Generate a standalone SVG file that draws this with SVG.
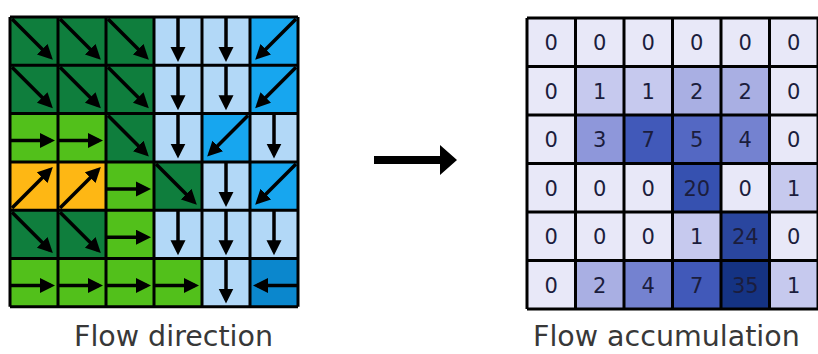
<svg xmlns="http://www.w3.org/2000/svg" xmlns:xlink="http://www.w3.org/1999/xlink" width="818" height="354" viewBox="0 0 818 354">
<style>
.dg{fill:#0f7e3d}.lg{fill:#52c01b}.lb{fill:#b2d8f7}.bb{fill:#17a6ef}.or{fill:#feb714}.db{fill:#0b87cd}
.v0{fill:#e8e8f8}.v1{fill:#c6c9ee}.v2{fill:#a9afe3}.v3{fill:#8e97da}.v4{fill:#7482d0}.v5{fill:#5468c3}.v7{fill:#4159b9}.v20{fill:#3651b0}.v24{fill:#2a469f}.v35{fill:#153383}
.arr{fill:none;stroke:#000;stroke-width:3.5;marker-end:url(#head)}
.grid{fill:none;stroke:#000;stroke-width:3}
.num{font-family:"DejaVu Sans",Verdana,sans-serif;font-size:21px;fill:#1b1d3d;text-anchor:middle}
.cap{font-family:"DejaVu Sans",Verdana,sans-serif;font-size:28.5px;fill:#383838}
</style>
<defs>
<marker id="head" markerUnits="userSpaceOnUse" markerWidth="16" markerHeight="16" refX="11" refY="7.5" orient="auto">
<path d="M0,0 L15,7.5 L0,15 z" fill="#000"/>
</marker>
<path id="se" class="arr" d="M2,2 L40,40"/>
<path id="sw" class="arr" d="M46,2 L8,40"/>
<path id="ne" class="arr" d="M2,46 L40,8"/>
<path id="s" class="arr" d="M24,0 L24,41"/>
<path id="e" class="arr" d="M0,27 L41,27"/>
<path id="w" class="arr" d="M48,27 L7,27"/>
</defs>
<rect width="818" height="354" fill="#fff"/>

<g id="flow-direction">
<rect class="dg" x="10" y="17" width="48" height="48.3"/><rect class="dg" x="58" y="17" width="48" height="48.3"/><rect class="dg" x="106" y="17" width="48" height="48.3"/><rect class="lb" x="154" y="17" width="48" height="48.3"/><rect class="lb" x="202" y="17" width="48" height="48.3"/><rect class="bb" x="250" y="17" width="48" height="48.3"/>
<rect class="dg" x="10" y="65.3" width="48" height="48.3"/><rect class="dg" x="58" y="65.3" width="48" height="48.3"/><rect class="dg" x="106" y="65.3" width="48" height="48.3"/><rect class="lb" x="154" y="65.3" width="48" height="48.3"/><rect class="lb" x="202" y="65.3" width="48" height="48.3"/><rect class="bb" x="250" y="65.3" width="48" height="48.3"/>
<rect class="lg" x="10" y="113.6" width="48" height="48.3"/><rect class="lg" x="58" y="113.6" width="48" height="48.3"/><rect class="dg" x="106" y="113.6" width="48" height="48.3"/><rect class="lb" x="154" y="113.6" width="48" height="48.3"/><rect class="bb" x="202" y="113.6" width="48" height="48.3"/><rect class="lb" x="250" y="113.6" width="48" height="48.3"/>
<rect class="or" x="10" y="161.9" width="48" height="48.3"/><rect class="or" x="58" y="161.9" width="48" height="48.3"/><rect class="lg" x="106" y="161.9" width="48" height="48.3"/><rect class="dg" x="154" y="161.9" width="48" height="48.3"/><rect class="lb" x="202" y="161.9" width="48" height="48.3"/><rect class="bb" x="250" y="161.9" width="48" height="48.3"/>
<rect class="dg" x="10" y="210.2" width="48" height="48.3"/><rect class="dg" x="58" y="210.2" width="48" height="48.3"/><rect class="lg" x="106" y="210.2" width="48" height="48.3"/><rect class="lb" x="154" y="210.2" width="48" height="48.3"/><rect class="lb" x="202" y="210.2" width="48" height="48.3"/><rect class="lb" x="250" y="210.2" width="48" height="48.3"/>
<rect class="lg" x="10" y="258.5" width="48" height="48.3"/><rect class="lg" x="58" y="258.5" width="48" height="48.3"/><rect class="lg" x="106" y="258.5" width="48" height="48.3"/><rect class="lg" x="154" y="258.5" width="48" height="48.3"/><rect class="lb" x="202" y="258.5" width="48" height="48.3"/><rect class="db" x="250" y="258.5" width="48" height="48.3"/>

<use xlink:href="#se" x="10" y="17"/><use xlink:href="#se" x="58" y="17"/><use xlink:href="#se" x="106" y="17"/><use xlink:href="#s" x="154" y="17"/><use xlink:href="#s" x="202" y="17"/><use xlink:href="#sw" x="250" y="17"/>
<use xlink:href="#se" x="10" y="65.3"/><use xlink:href="#se" x="58" y="65.3"/><use xlink:href="#se" x="106" y="65.3"/><use xlink:href="#s" x="154" y="65.3"/><use xlink:href="#s" x="202" y="65.3"/><use xlink:href="#sw" x="250" y="65.3"/>
<use xlink:href="#e" x="10" y="113.6"/><use xlink:href="#e" x="58" y="113.6"/><use xlink:href="#se" x="106" y="113.6"/><use xlink:href="#s" x="154" y="113.6"/><use xlink:href="#sw" x="202" y="113.6"/><use xlink:href="#s" x="250" y="113.6"/>
<use xlink:href="#ne" x="10" y="161.9"/><use xlink:href="#ne" x="58" y="161.9"/><use xlink:href="#e" x="106" y="161.9"/><use xlink:href="#se" x="154" y="161.9"/><use xlink:href="#s" x="202" y="161.9"/><use xlink:href="#sw" x="250" y="161.9"/>
<use xlink:href="#se" x="10" y="210.2"/><use xlink:href="#se" x="58" y="210.2"/><use xlink:href="#e" x="106" y="210.2"/><use xlink:href="#s" x="154" y="210.2"/><use xlink:href="#s" x="202" y="210.2"/><use xlink:href="#s" x="250" y="210.2"/>
<use xlink:href="#e" x="10" y="258.5"/><use xlink:href="#e" x="58" y="258.5"/><use xlink:href="#e" x="106" y="258.5"/><use xlink:href="#e" x="154" y="258.5"/><use xlink:href="#s" x="202" y="258.5"/><use xlink:href="#w" x="250" y="258.5"/>

<path class="grid" d="M10,17V306.8M58,17V306.8M106,17V306.8M154,17V306.8M202,17V306.8M250,17V306.8M298,17V306.8M10,17H298M10,65.3H298M10,113.6H298M10,161.9H298M10,210.2H298M10,258.5H298M10,306.8H298"/>
<text class="cap" x="74" y="346">Flow direction</text>
</g>

<g id="connectors">
<path d="M374,156 H440 V145 L457,160 L440,175 V164 H374 z" fill="#000"/>
</g>

<g id="flow-accumulation">
<rect class="v0" x="527" y="18" width="48.5" height="48.5"/><rect class="v0" x="575.5" y="18" width="48.5" height="48.5"/><rect class="v0" x="624" y="18" width="48.5" height="48.5"/><rect class="v0" x="672.5" y="18" width="48.5" height="48.5"/><rect class="v0" x="721" y="18" width="48.5" height="48.5"/><rect class="v0" x="769.5" y="18" width="48.5" height="48.5"/>
<rect class="v0" x="527" y="66.5" width="48.5" height="48.5"/><rect class="v1" x="575.5" y="66.5" width="48.5" height="48.5"/><rect class="v1" x="624" y="66.5" width="48.5" height="48.5"/><rect class="v2" x="672.5" y="66.5" width="48.5" height="48.5"/><rect class="v2" x="721" y="66.5" width="48.5" height="48.5"/><rect class="v0" x="769.5" y="66.5" width="48.5" height="48.5"/>
<rect class="v0" x="527" y="115" width="48.5" height="48.5"/><rect class="v3" x="575.5" y="115" width="48.5" height="48.5"/><rect class="v7" x="624" y="115" width="48.5" height="48.5"/><rect class="v5" x="672.5" y="115" width="48.5" height="48.5"/><rect class="v4" x="721" y="115" width="48.5" height="48.5"/><rect class="v0" x="769.5" y="115" width="48.5" height="48.5"/>
<rect class="v0" x="527" y="163.5" width="48.5" height="48.5"/><rect class="v0" x="575.5" y="163.5" width="48.5" height="48.5"/><rect class="v0" x="624" y="163.5" width="48.5" height="48.5"/><rect class="v20" x="672.5" y="163.5" width="48.5" height="48.5"/><rect class="v0" x="721" y="163.5" width="48.5" height="48.5"/><rect class="v1" x="769.5" y="163.5" width="48.5" height="48.5"/>
<rect class="v0" x="527" y="212" width="48.5" height="48.5"/><rect class="v0" x="575.5" y="212" width="48.5" height="48.5"/><rect class="v0" x="624" y="212" width="48.5" height="48.5"/><rect class="v1" x="672.5" y="212" width="48.5" height="48.5"/><rect class="v24" x="721" y="212" width="48.5" height="48.5"/><rect class="v0" x="769.5" y="212" width="48.5" height="48.5"/>
<rect class="v0" x="527" y="260.5" width="48.5" height="48.5"/><rect class="v2" x="575.5" y="260.5" width="48.5" height="48.5"/><rect class="v4" x="624" y="260.5" width="48.5" height="48.5"/><rect class="v7" x="672.5" y="260.5" width="48.5" height="48.5"/><rect class="v35" x="721" y="260.5" width="48.5" height="48.5"/><rect class="v1" x="769.5" y="260.5" width="48.5" height="48.5"/>

<text class="num" x="551.3" y="50">0</text><text class="num" x="599.8" y="50">0</text><text class="num" x="648.3" y="50">0</text><text class="num" x="696.8" y="50">0</text><text class="num" x="745.3" y="50">0</text><text class="num" x="793.8" y="50">0</text>
<text class="num" x="551.3" y="98.5">0</text><text class="num" x="599.8" y="98.5">1</text><text class="num" x="648.3" y="98.5">1</text><text class="num" x="696.8" y="98.5">2</text><text class="num" x="745.3" y="98.5">2</text><text class="num" x="793.8" y="98.5">0</text>
<text class="num" x="551.3" y="147">0</text><text class="num" x="599.8" y="147">3</text><text class="num" x="648.3" y="147">7</text><text class="num" x="696.8" y="147">5</text><text class="num" x="745.3" y="147">4</text><text class="num" x="793.8" y="147">0</text>
<text class="num" x="551.3" y="195.5">0</text><text class="num" x="599.8" y="195.5">0</text><text class="num" x="648.3" y="195.5">0</text><text class="num" x="696.8" y="195.5">20</text><text class="num" x="745.3" y="195.5">0</text><text class="num" x="793.8" y="195.5">1</text>
<text class="num" x="551.3" y="244">0</text><text class="num" x="599.8" y="244">0</text><text class="num" x="648.3" y="244">0</text><text class="num" x="696.8" y="244">1</text><text class="num" x="745.3" y="244">24</text><text class="num" x="793.8" y="244">0</text>
<text class="num" x="551.3" y="292.5">0</text><text class="num" x="599.8" y="292.5">2</text><text class="num" x="648.3" y="292.5">4</text><text class="num" x="696.8" y="292.5">7</text><text class="num" x="745.3" y="292.5">35</text><text class="num" x="793.8" y="292.5">1</text>

<path class="grid" d="M527,18V309M575.5,18V309M624,18V309M672.5,18V309M721,18V309M769.5,18V309M818,18V309M527,18H818M527,66.5H818M527,115H818M527,163.5H818M527,212H818M527,260.5H818M527,309H818"/>
<text class="cap" x="533" y="346">Flow accumulation</text>
</g>
</svg>
